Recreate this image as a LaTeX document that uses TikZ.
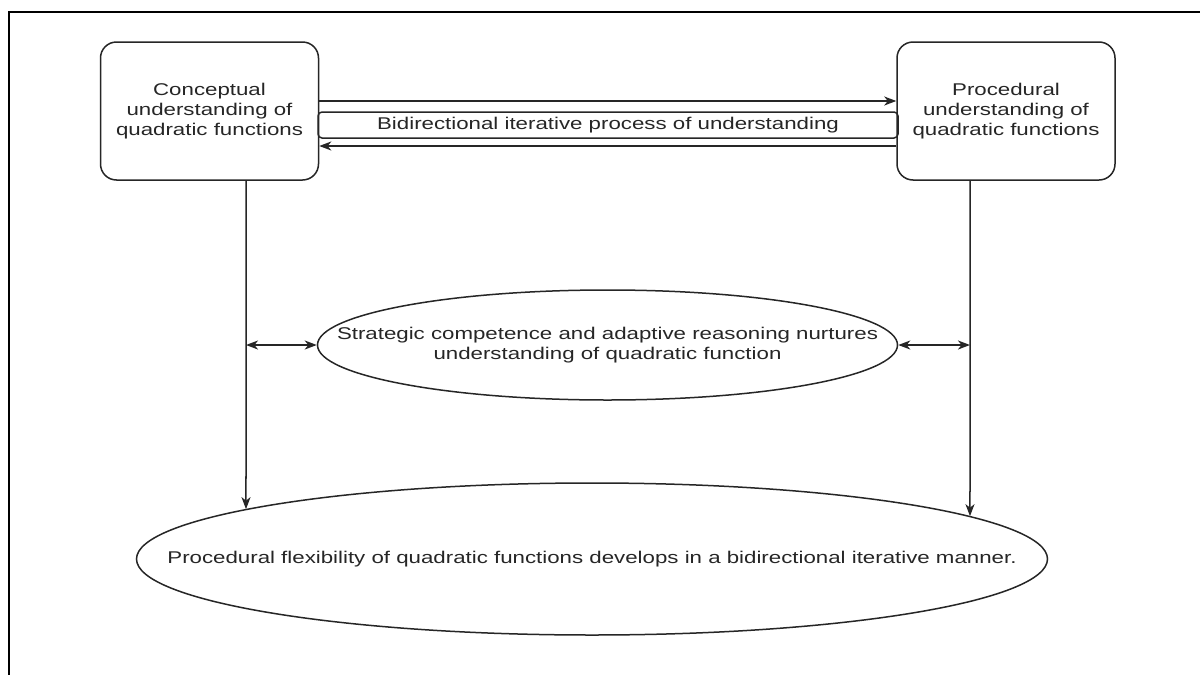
\documentclass[tikz,border=0pt]{standalone}
\usepackage{fontspec}
\setmainfont{Liberation Sans}[FakeStretch=1.31]
\usetikzlibrary{shapes.geometric,arrows.meta,intersections}
\begin{document}
\begin{tikzpicture}[x=1pt,y=-1pt,
  every node/.style={font=\fontsize{17}{20}\selectfont, align=center, text=black!85},
  line/.style={line width=1.5pt, draw=black!85},
  arr/.style={line, -{Stealth[length=12pt,width=9pt,inset=3.5pt]}},
  darr/.style={line, {Stealth[length=12pt,width=9pt,inset=3.5pt]}-{Stealth[length=12pt,width=9pt,inset=3.5pt]}},
  ubox/.style={line, rectangle, rounded corners=16pt, minimum width=218pt, minimum height=138pt, inner sep=0pt},
  labbox/.style={line, rectangle, rounded corners=4pt, minimum width=580pt, minimum height=26pt, inner sep=0pt},
  oval/.style={line, ellipse, inner sep=0pt}]
\useasboundingbox (0,0) rectangle (1200,675);
\fill[white] (0,0) rectangle (1200,675);
% frame
\draw[line width=1.8pt] (9,675) -- (9,12) -- (1200,12);
% boxes
\node[ubox] (C) at (209.5,111) {Conceptual\\understanding of\\quadratic functions};
\node[ubox] (P) at (1006,111) {Procedural\\understanding of\\quadratic functions};
\node[labbox] (B) at (608,125) {Bidirectional iterative process of understanding};
% horizontal arrows
\draw[arr] ([yshift=10pt]C.east) -- ([yshift=10pt]P.west);
\draw[arr] ([yshift=-35pt]P.west) -- ([yshift=-35pt]C.east);
% ellipses
\node[oval, minimum width=580pt, minimum height=110pt,
  label={center:Strategic competence and adaptive reasoning nurtures\\understanding of quadratic function}] (S) at (607.5,345) {};
\node[oval, minimum width=911pt, minimum height=152pt,
  label={center:Procedural flexibility of quadratic functions develops in a bidirectional iterative manner.}] (F) at (592,559) {};
% helper paths for where the vertical arrows meet the lower ellipse
\path[name path=fbord] (F.center) ellipse [x radius=456, y radius=76.5];
\coordinate (vl) at ([xshift=36.5pt]C.south);
\coordinate (vr) at ([xshift=-36pt]P.south);
\path[name path=pl] (vl) -- ++(0,400);
\path[name path=pr] (vr) -- ++(0,400);
\path[name intersections={of=pl and fbord, by=fl}];
\path[name intersections={of=pr and fbord, by=fr}];
% vertical arrows
\draw[arr] (vl) -- (fl);
\draw[arr] (vr) -- (fr);
% middle double arrows
\draw[darr] (vl |- S.west) -- (S.west);
\draw[darr] (S.east) -- (vr |- S.east);
\end{tikzpicture}
\end{document}
